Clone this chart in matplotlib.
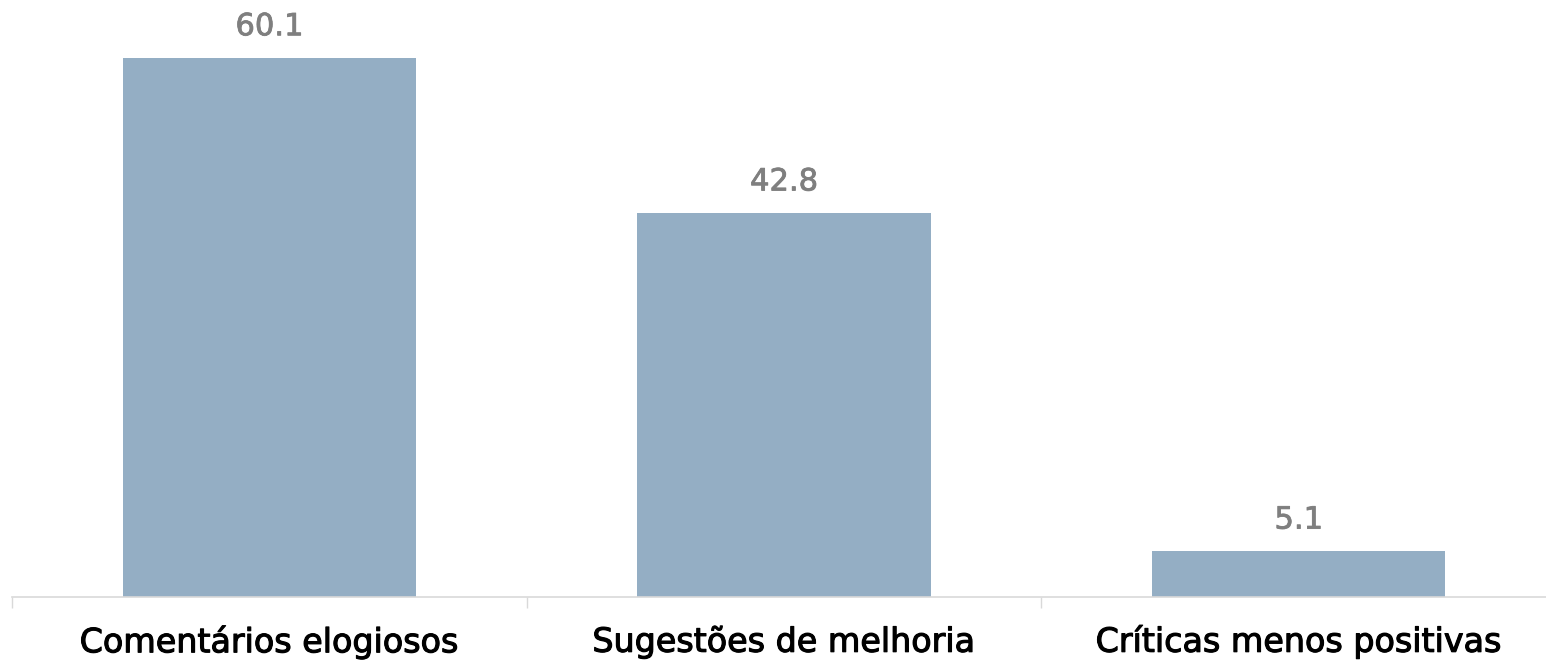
import matplotlib
matplotlib.use("Agg")
import matplotlib.pyplot as plt
import matplotlib.patheffects as pe

categories = ["Comentários elogiosos", "Sugestões de melhoria", "Críticas menos positivas"]
values = [60.1, 42.8, 5.1]
value_labels = ["60.1", "42.8", "5.1"]

W, H = 1546, 662
fig = plt.figure(figsize=(W / 100, H / 100), dpi=100)
left = 12 / W
bottom = (H - 597) / H
ax = fig.add_axes([left, bottom, 1544 / W, 597 / H])

x = range(len(categories))
ax.bar(x, values, width=0.57, color="#94aec4", zorder=2)
ax.set_xlim(-0.5, 2.5)
ax.set_ylim(0, 66.56)

for xi, v, lab in zip(x, values, value_labels):
    ax.annotate(lab, (xi, v), xytext=(0, 12), textcoords="offset points",
                ha="center", va="bottom", fontsize=22, color="#7f7f7f",
                family="DejaVu Sans",
                path_effects=[pe.withStroke(linewidth=0.6, foreground="#7f7f7f")])

for s in ["top", "right", "left"]:
    ax.spines[s].set_visible(False)
ax.spines["bottom"].set_color("#d9d9d9")
ax.spines["bottom"].set_linewidth(1.2)
ax.set_yticks([])
ax.set_xticks([-0.5, 0.5, 1.5, 2.5], minor=False)
ax.set_xticklabels([])
ax.tick_params(axis="x", length=8, color="#d9d9d9", width=1)
ax.set_xticks(list(x), minor=True)
labels = ax.set_xticklabels(categories, minor=True, fontsize=24, color="#000000",
                            family="DejaVu Sans")
for t in labels:
    t.set_path_effects([pe.withStroke(linewidth=0.8, foreground="#000000")])
ax.tick_params(axis="x", which="minor", length=0, pad=20)

fig.savefig("out.png", dpi=100)
